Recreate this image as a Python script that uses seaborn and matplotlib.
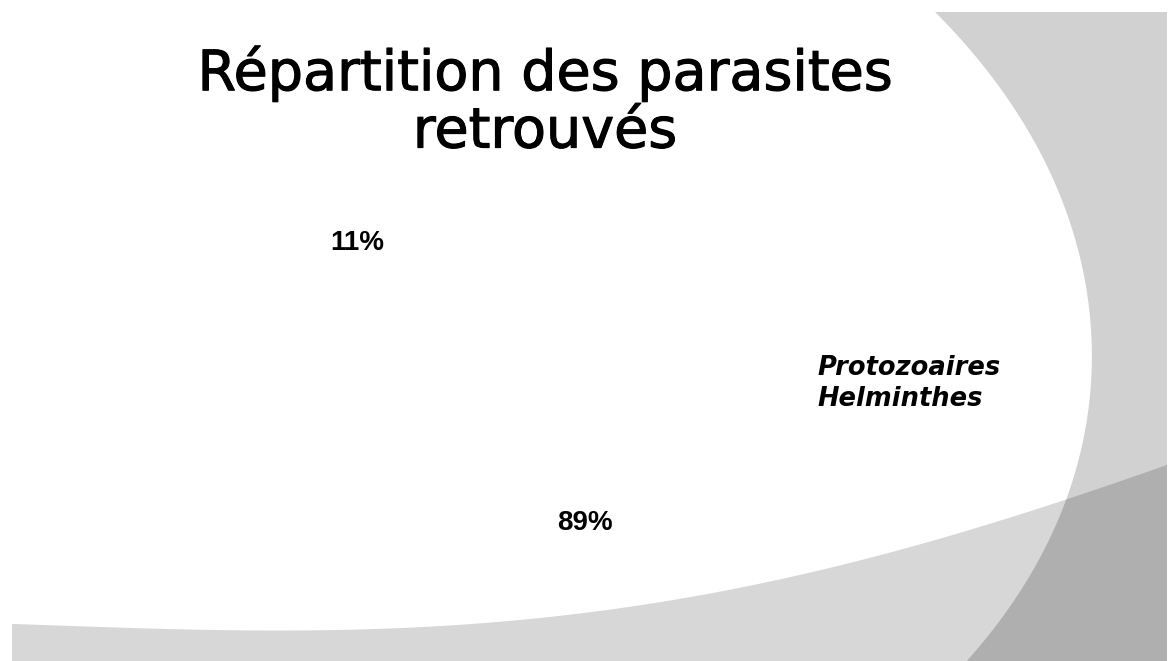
import numpy as np
import matplotlib
matplotlib.use('Agg')
import matplotlib.pyplot as plt
import matplotlib.patheffects as pe
from matplotlib.patches import Polygon, Patch
import seaborn as sns

categories = ['Protozoaires', 'Helminthes']
percentages = [11, 89]
title = 'Répartition des parasites\nretrouvés'

sns.set_theme(style='white')
plt.rcParams['font.family'] = ['DejaVu Sans']
plt.rcParams['text.color'] = 'black'

W, H = 1168, 661
fig = plt.figure(figsize=(W / 100, H / 100), dpi=100)
fig.patch.set_facecolor('white')

# slide background (pixel coords, y down)
bg = fig.add_axes([0, 0, 1, 1])
bg.set_xlim(0, W)
bg.set_ylim(H, 0)
bg.axis('off')

arc_y = [12, 100, 150, 200, 280, 350, 420, 500, 580, 661]
arc_x = [935, 1008, 1040, 1063, 1083, 1090, 1088, 1070, 1023, 968]
arc = np.poly1d(np.polyfit(arc_y, arc_x, 4))
ys = np.linspace(12, H, 200)
right_pts = list(zip(arc(ys), ys)) + [(1167, H), (1167, 12)]
right_shape = Polygon(right_pts, closed=True, facecolor='#d1d1d1', edgecolor='none')
bg.add_patch(right_shape)

band_x = [12, 250, 400, 500, 600, 700, 800, 900, 1000, 1070, 1167]
band_y = [624, 630, 628, 623, 611, 594, 574, 552, 520, 498, 465]
band = np.poly1d(np.polyfit(band_x, band_y, 4))
xs = np.linspace(12, 1167, 200)
band_pts = list(zip(xs, band(xs))) + [(1167, H), (12, H)]
bg.add_patch(Polygon(band_pts, closed=True, facecolor='#d7d7d7', edgecolor='none'))
overlap = Polygon(band_pts, closed=True, facecolor='#afafaf', edgecolor='none')
bg.add_patch(overlap)
overlap.set_clip_path(right_shape)

# title
fig.text(545 / W, 1 - 103 / H, title, ha='center', va='center',
         fontsize=40, linespacing=1.08, color='black',
         path_effects=[pe.withStroke(linewidth=0.8, foreground='black')])

# pie (white wedges on white slide)
ax = fig.add_axes([153 / W, 38 / H, 636 / W, 480 / H])
wedges, texts, autotexts = ax.pie(
    percentages, startangle=101.9, counterclock=True,
    colors=['white', 'white'], wedgeprops=dict(edgecolor='white'),
    autopct=lambda p: f'{p:.0f}%', pctdistance=0.82,
    textprops=dict(fontsize=20, fontweight='bold', color='black',
                   family=['Liberation Sans', 'DejaVu Sans']))
ax.set_aspect('auto')
ax.set_xlim(-1.2, 1.2)
ax.set_ylim(-1.2, 1.2)
ax.patch.set_alpha(0)

handles = [Patch(facecolor='white', edgecolor='white') for _ in categories]
leg = fig.legend(handles, categories, loc='upper left',
                 bbox_to_anchor=(817 / W, 1 - 355 / H), frameon=False,
                 handlelength=0, handletextpad=0, borderpad=0, borderaxespad=0,
                 labelspacing=0.2,
                 prop=dict(size=18.5, weight='bold', style='italic'))
for t in leg.get_texts():
    t.set_color('black')

fig.savefig('out.png', dpi=100, facecolor='white')
